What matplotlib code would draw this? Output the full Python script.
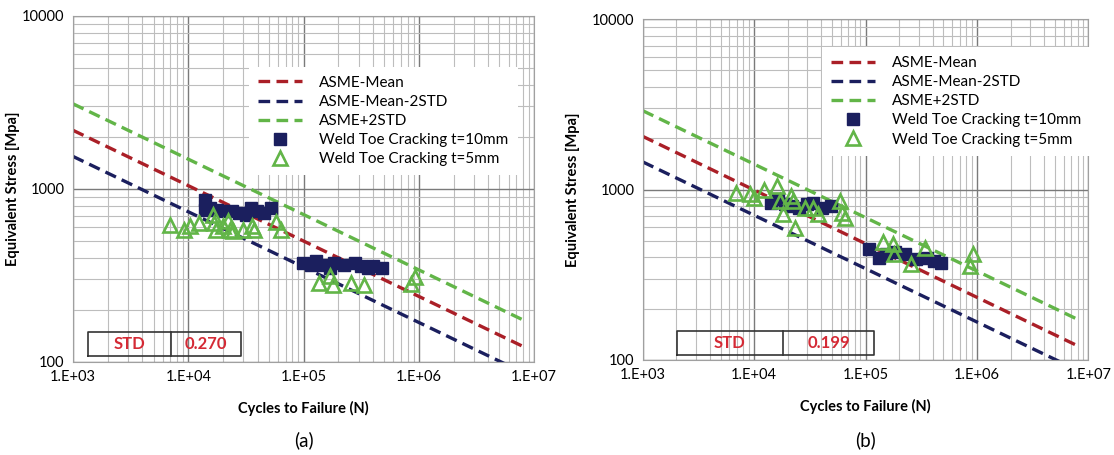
import numpy as np
import matplotlib.pyplot as plt
from matplotlib.ticker import FixedLocator, LogLocator, NullFormatter

plt.rcParams['font.family'] = ['Lato', 'DejaVu Sans']

# ASME design curves (two end points each, straight in log-log)
curve_N = [1e3, 8e6]
a_mean = [2180, 123]
a_minus = [1540, 87]
a_plus = [3100, 175]
b_mean = [2050, 121]
b_minus = [1452, 87]
b_plus = [2900, 173]

# panel (a) test data
a_sq_N = [1.41e4, 1.41e4, 1.55e4, 1.78e4, 2.05e4, 2.38e4, 2.74e4, 3.16e4, 3.52e4, 3.92e4, 4.52e4, 5.2e4,
          9.9e4, 1.15e5, 1.28e5, 1.47e5, 1.70e5, 1.82e5, 2.26e5, 2.8e5, 3.12e5, 3.6e5, 4.0e5, 4.8e5]
a_sq_S = [865, 758, 775, 758, 741, 741, 725, 709, 775, 741, 725, 775,
          373, 365, 381, 365, 349, 373, 365, 373, 357, 349, 357, 349]
a_tr_N = [6.9e3, 9.2e3, 1.03e4, 1.25e4, 1.63e4, 1.66e4, 1.75e4, 1.99e4, 2.21e4, 2.29e4, 2.46e4, 3.0e4,
          3.6e4, 3.7e4, 5.8e4, 6.4e4, 1.35e5, 1.70e5, 1.80e5, 2.6e5, 3.35e5, 8.5e5, 9.25e5]
a_tr_S = [621, 581, 607, 635, 710, 635, 581, 607, 649, 581, 569, 581,
          607, 581, 641, 581, 286, 315, 280, 286, 280, 283, 310]

# panel (b) test data
b_sq_N = [1.42e4, 1.64e4, 1.9e4, 2.2e4, 2.55e4, 2.95e4, 3.4e4, 4.1e4, 4.9e4,
          1.08e5, 1.32e5, 1.53e5, 1.83e5, 2.28e5, 2.84e5, 3.54e5, 4.1e5, 4.74e5]
b_sq_S = [835, 874, 817, 800, 782, 817, 835, 782, 800,
          446, 398, 417, 427, 417, 390, 398, 381, 369]
b_tr_N = [6.8e3, 9.2e3, 1.0e4, 1.23e4, 1.61e4, 1.7e4, 1.8e4, 2.12e4, 2.23e4, 2.33e4, 2.84e4, 3.37e4,
          3.73e4, 5.9e4, 6.2e4, 6.5e4, 1.42e5, 1.77e5, 1.81e5, 2.55e5, 3.41e5, 8.65e5, 9.3e5]
b_tr_S = [957, 935, 894, 990, 1045, 855, 714, 914, 855, 597, 782, 782,
          714, 855, 731, 683, 492, 476, 417, 364, 456, 357, 417]

x_ticks = [1e3, 1e4, 1e5, 1e6, 1e7]
x_labels = ['1.E+03', '1.E+04', '1.E+05', '1.E+06', '1.E+07']
y_ticks = [100, 1000, 10000]
y_labels = ['100', '1000', '10000']

RED = '#aa1f27'
NAVY = '#1b1f5e'
GREEN = '#62b548'
STDRED = '#d42a35'
DASH = (0, (3.5, 1.9))


def panel(ax, mean, minus, plus, sq_N, sq_S, tr_N, tr_S, std, std_box, leg_anchor, ylab_x):
    ax.set_xscale('log')
    ax.set_yscale('log')
    ax.set_xlim(1e3, 1e7)
    ax.set_ylim(100, 10000)
    ax.xaxis.set_major_locator(FixedLocator(x_ticks))
    ax.set_xticklabels(x_labels)
    ax.yaxis.set_major_locator(FixedLocator(y_ticks))
    ax.set_yticklabels(y_labels)
    ax.xaxis.set_minor_locator(LogLocator(base=10, subs=np.arange(2, 10)))
    ax.yaxis.set_minor_locator(LogLocator(base=10, subs=np.arange(2, 10)))
    ax.xaxis.set_minor_formatter(NullFormatter())
    ax.yaxis.set_minor_formatter(NullFormatter())
    ax.grid(True, which='major', color='#7a7a7a', lw=1.0)
    ax.grid(True, which='minor', color='#bdbdbd', lw=0.8)
    ax.set_axisbelow(True)
    ax.tick_params(which='both', length=0, labelsize=10.5, pad=6)
    for s in ax.spines.values():
        s.set_color('#a0a0a0')

    ax.plot(curve_N, mean, ls=DASH, color=RED, lw=2.4, label='ASME-Mean')
    ax.plot(curve_N, minus, ls=DASH, color=NAVY, lw=2.4, label='ASME-Mean-2STD')
    ax.plot(curve_N, plus, ls=DASH, color=GREEN, lw=2.4, label='ASME+2STD')
    ax.plot(sq_N, sq_S, 's', color=NAVY, ms=8.5, label='Weld Toe Cracking t=10mm')
    ax.plot(tr_N, tr_S, '^', mfc='none', mec=GREEN, mew=1.9, ms=10, label='Weld Toe Cracking t=5mm')

    ax.set_xlabel('Cycles to Failure (N)', fontweight='bold', fontsize=10.5, labelpad=12)
    ax.set_ylabel('Equivalent Stress [Mpa]', fontweight='bold', fontsize=10.5)
    ax.yaxis.set_label_coords(ylab_x, 0.5)

    leg = ax.legend(loc='upper left', bbox_to_anchor=leg_anchor, frameon=True, fancybox=False,
                    edgecolor='white', framealpha=1, fontsize=11, handlelength=2.9,
                    handletextpad=1.1, labelspacing=0.33, borderpad=0.6)
    leg.get_frame().set_linewidth(0)

    # STD table
    x0, xm, x1, y0, y1 = std_box
    ax.plot([x0, x1, x1, x0, x0], [y0, y0, y1, y1, y0], color='#333333', lw=1.2,
            transform=ax.transAxes, clip_on=False)
    ax.plot([xm, xm], [y0, y1], color='#333333', lw=1.2, transform=ax.transAxes)
    ax.text((x0 + xm) / 2, (y0 + y1) / 2, 'STD', color=STDRED, fontweight='bold', fontsize=12,
            ha='center', va='center', transform=ax.transAxes)
    ax.text((xm + x1) / 2, (y0 + y1) / 2, std, color=STDRED, fontweight='bold', fontsize=12,
            ha='center', va='center', transform=ax.transAxes)


fig = plt.figure(figsize=(11.14, 4.55), dpi=100)
ax1 = fig.add_axes([0.0655, 0.2044, 0.414, 0.761])
ax2 = fig.add_axes([0.577, 0.209, 0.400, 0.749])

panel(ax1, a_mean, a_minus, a_plus, a_sq_N, a_sq_S, a_tr_N, a_tr_S, '0.270',
      (0.033, 0.212, 0.365, 0.018, 0.087), (0.365, 0.875), -0.115)
panel(ax2, b_mean, b_minus, b_plus, b_sq_N, b_sq_S, b_tr_N, b_tr_S, '0.199',
      (0.076, 0.314, 0.52, 0.015, 0.084), (0.385, 0.94), -0.14)

fig.text(0.2725, 0.033, '(a)', fontsize=13.5, ha='center', va='center')
fig.text(0.777, 0.033, '(b)', fontsize=13.5, ha='center', va='center')

fig.savefig('out.png', dpi=100)
